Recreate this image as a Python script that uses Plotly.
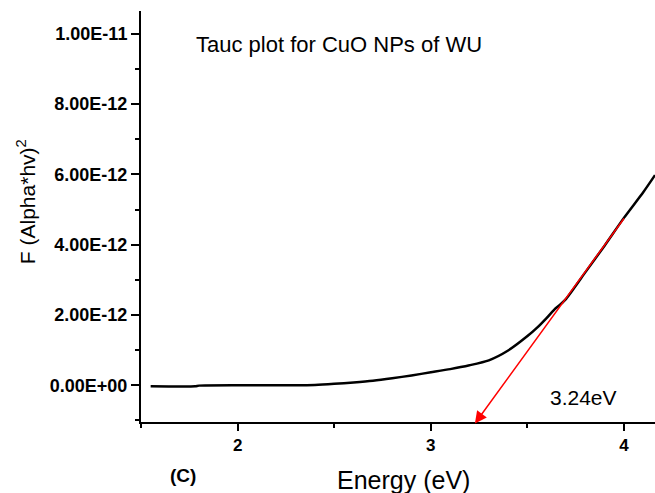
import plotly.graph_objects as go

# Data (Energy in eV, F(alpha*hv)^2)
energy = [1.55, 1.78, 1.80, 2.00, 2.20, 2.40, 2.50, 2.60, 2.70, 2.80, 2.90, 3.00,
          3.10, 3.20, 3.30, 3.40, 3.50, 3.55, 3.60, 3.64, 3.67, 3.70, 3.80, 3.90,
          4.00, 4.10, 4.16]
tauc = [-0.03, -0.03, -0.01, 0.0, 0.0, 0.01, 0.04, 0.08, 0.13, 0.20, 0.28, 0.37,
        0.46, 0.57, 0.71, 0.99, 1.40, 1.64, 1.92, 2.16, 2.30, 2.46, 3.22, 3.98,
        4.77, 5.50, 5.98]
tauc = [v * 1e-12 for v in tauc]

# Linear fit (extrapolation arrow): tail, head
fit_x = [4.005, 3.228]
fit_y = [4.79e-12, -1.09e-12]

ytick_vals = [0, 2e-12, 4e-12, 6e-12, 8e-12, 1e-11]
ytick_text = ["0.00E+00", "2.00E-12", "4.00E-12", "6.00E-12", "8.00E-12", "1.00E-11"]
xtick_vals = [2, 3, 4]
xtick_text = ["2", "3", "4"]

FONT = "Liberation Sans, Arial, sans-serif"

fig = go.Figure()
fig.add_trace(go.Scatter(x=energy, y=tauc, mode="lines",
                         line=dict(color="black", width=2.5, shape="spline", smoothing=0.6),
                         showlegend=False, hoverinfo="skip"))

fig.add_annotation(x=fit_x[1], y=fit_y[1], ax=fit_x[0], ay=fit_y[0],
                   xref="x", yref="y", axref="x", ayref="y",
                   showarrow=True, arrowhead=2, arrowsize=1.6, arrowwidth=1.5,
                   arrowcolor="red", text="")

fig.add_annotation(x=3.79, y=-0.35e-12, xref="x", yref="y", text="3.24eV",
                   showarrow=False, xanchor="center", yanchor="middle",
                   font=dict(family=FONT, size=21, color="black"))
fig.add_annotation(x=2.526, y=9.69e-12, xref="x", yref="y",
                   text="Tauc plot for CuO NPs of WU",
                   showarrow=False, xanchor="center", yanchor="middle",
                   font=dict(family=FONT, size=22, color="black"))
fig.add_annotation(x=0.0817, y=-0.131, xref="paper", yref="paper", text="<b>(C)</b>",
                   showarrow=False, xanchor="center", yanchor="middle",
                   font=dict(family=FONT, size=19, color="black"))
fig.add_annotation(x=0.511, y=-0.141, xref="paper", yref="paper", text="Energy (eV)",
                   showarrow=False, xanchor="center", yanchor="middle",
                   font=dict(family=FONT, size=25, color="black"))
fig.add_annotation(x=-0.2237, y=0.535, xref="paper", yref="paper",
                   text="F (Alpha*hv)<sup>2</sup>", textangle=-90,
                   showarrow=False, xanchor="center", yanchor="middle",
                   font=dict(family=FONT, size=21, color="black"))

fig.update_xaxes(range=[1.5, 4.16], showgrid=False, zeroline=False, automargin=False,
                 showline=True, linecolor="black", linewidth=2,
                 ticks="outside", ticklen=7, tickwidth=2, tickcolor="black",
                 tickmode="array", tickvals=xtick_vals, ticktext=xtick_text,
                 tickfont=dict(family=FONT, size=17, color="black", weight="bold"),
                 minor=dict(tickmode="array", tickvals=[1.5, 2.5, 3.5],
                            ticks="outside", ticklen=4, tickwidth=2, tickcolor="black"))
fig.update_yaxes(range=[-1.045e-12, 10.65e-12], showgrid=False, zeroline=False, automargin=False,
                 showline=True, linecolor="black", linewidth=2,
                 ticks="outside", ticklen=8, tickwidth=2, tickcolor="black",
                 tickmode="array", tickvals=ytick_vals, ticktext=ytick_text,
                 tickfont=dict(family=FONT, size=18, color="black", weight="bold"),
                 minor=dict(tickmode="array", tickvals=[-1e-12, 1e-12, 3e-12, 5e-12, 7e-12, 9e-12],
                            ticks="outside", ticklen=4, tickwidth=2, tickcolor="black"))

fig.update_layout(width=655, height=493, margin=dict(l=141, r=0, t=11, b=71),
                  plot_bgcolor="white", paper_bgcolor="white",
                  font=dict(family=FONT, color="black"))

fig.write_html("out.html", config={"displayModeBar": False},
               post_script="document.body.style.margin='0';")
